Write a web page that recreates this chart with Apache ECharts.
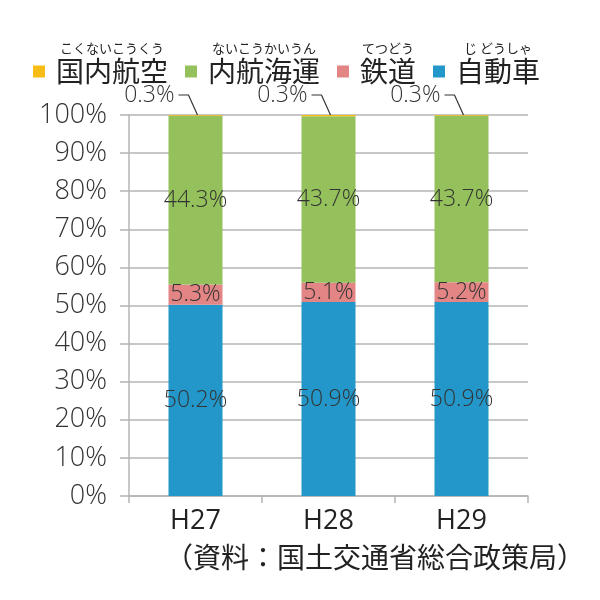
<!DOCTYPE html>
<html>
<head>
<meta charset="utf-8">
<script src="https://cdn.jsdelivr.net/npm/echarts@6/dist/echarts.min.js"></script>
<style>
  html, body { margin: 0; padding: 0; background: #fff; }
  #chart { width: 600px; height: 600px; }
</style>
</head>
<body>
<div id="chart"></div>
<script>
// data (share of domestic freight, %)
var years = ['H27', 'H28', 'H29'];
var carShare = [50.2, 50.9, 50.9];
var railShare = [5.3, 5.1, 5.2];
var shipShare = [44.3, 43.7, 43.7];
var airShare = [0.3, 0.3, 0.3];

var legendOrder = ['国内航空', '内航海運', '鉄道', '自動車'];
var furigana = {
  '国内航空': 'こくないこうくう',
  '内航海運': 'ないこうかいうん',
  '鉄道': 'てつどう',
  '自動車': 'じ どうしゃ'
};
var colors = {
  '自動車': '#2397c9',
  '鉄道': '#e48585',
  '内航海運': '#94c15b',
  '国内航空': '#f7bd16'
};

var numFont = "'Open Sans', 'Noto Sans', sans-serif";
var jpFont = "'Noto Sans CJK JP', sans-serif";
var gridColor = '#b4b4b4';

var chart = echarts.init(document.getElementById('chart'));

function barSeries(name, values, withLabel) {
  return {
    name: name,
    type: 'bar',
    stack: 'total',
    barWidth: 54,
    data: values,
    itemStyle: { color: colors[name] },
    label: {
      show: withLabel,
      position: 'inside',
      color: '#333',
      fontFamily: numFont,
      fontWeight: 300,
      fontSize: 23,
      formatter: '{c}%'
    },
    emphasis: { disabled: true }
  };
}

// the tiny air share gets an outside label with a leader line
var airNotes = years.map(function (y, i) {
  var total = carShare[i] + railShare[i] + shipShare[i] + airShare[i];
  return [i, Math.min(100, total), airShare[i]];
});

var option = {
  animation: false,
  legend: {
    data: legendOrder,
    left: 28,
    top: 37,
    itemWidth: 12,
    itemHeight: 12,
    itemGap: 17,
    icon: 'rect',
    selectedMode: false,
    textStyle: {
      padding: [0, 0, 0, 6],
      rich: {
        f: { fontSize: 13, lineHeight: 15, color: '#222', align: 'center', fontFamily: jpFont },
        n: { fontSize: 28, lineHeight: 31, color: '#222', align: 'center', fontFamily: jpFont }
      }
    },
    formatter: function (name) {
      return '{f|' + furigana[name] + '}\n{n|' + name + '}\n{f| }';
    }
  },
  title: {
    text: '（資料：国土交通省総合政策局）',
    right: 10,
    top: 538,
    textStyle: { fontSize: 28, fontWeight: 'normal', color: '#222', fontFamily: jpFont }
  },
  grid: { left: 129, right: 72, top: 115, bottom: 104 },
  xAxis: {
    type: 'category',
    data: years,
    axisLine: { lineStyle: { color: gridColor, width: 1.5 } },
    axisTick: { show: true, length: 7, lineStyle: { color: gridColor, width: 1.5 } },
    axisLabel: { margin: 12, fontSize: 27, color: '#222', fontFamily: numFont }
  },
  yAxis: {
    type: 'value',
    min: 0,
    max: 100,
    interval: 10,
    axisLine: { show: true, lineStyle: { color: gridColor, width: 1.5 } },
    axisTick: { show: true, length: 9, lineStyle: { color: gridColor, width: 1.5 } },
    splitLine: { lineStyle: { color: gridColor, width: 1.5 } },
    axisLabel: {
      margin: 22,
      fontSize: 27,
      color: '#333',
      fontFamily: numFont,
      fontWeight: 300,
      formatter: '{value}%'
    }
  },
  series: [
    barSeries('自動車', carShare, true),
    barSeries('鉄道', railShare, true),
    barSeries('内航海運', shipShare, true),
    barSeries('国内航空', airShare, false),
    {
      type: 'custom',
      silent: true,
      z: 10,
      data: airNotes,
      encode: { x: 0, y: 1 },
      renderItem: function (params, api) {
        var p = api.coord([api.value(0), api.value(1)]);
        return {
          type: 'group',
          children: [
            {
              type: 'polyline',
              shape: { points: [[p[0] - 17, p[1] - 20], [p[0] - 7, p[1] - 20], [p[0] + 2, p[1]]] },
              style: { stroke: '#333', lineWidth: 1.2, fill: null }
            },
            {
              type: 'text',
              style: {
                text: api.value(2) + '%',
                x: p[0] - 21,
                y: p[1] - 20,
                align: 'right',
                verticalAlign: 'middle',
                fontSize: 23,
                fontWeight: 300,
                fontFamily: numFont,
                fill: '#333'
              }
            }
          ]
        };
      }
    }
  ]
};

chart.setOption(option);
</script>
</body>
</html>
